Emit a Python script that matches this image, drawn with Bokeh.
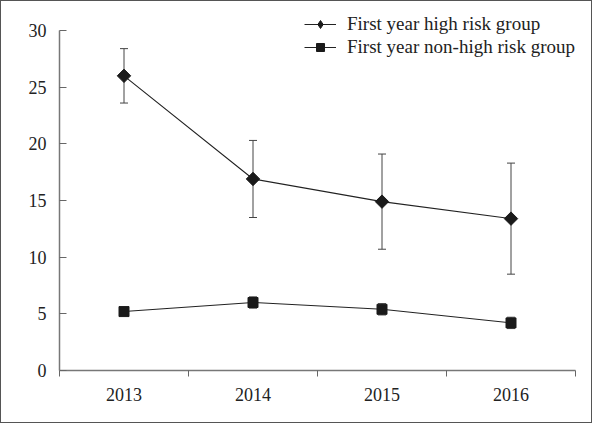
import numpy as np
from bokeh.plotting import figure
from bokeh.models import (ColumnDataSource, Range1d, FixedTicker, Whisker, TeeHead,
                          Legend, LegendItem)
from bokeh.embed import file_html
from bokeh.resources import INLINE

# ---- data ----
years = ["2013", "2014", "2015", "2016"]
high_mean = [26.0, 16.9, 14.9, 13.4]
high_err = [2.4, 3.4, 4.2, 4.9]
non_mean = [5.2, 6.0, 5.4, 4.2]
non_err = [0.3, 0.5, 0.5, 0.5]
y_ticks = [0, 5, 10, 15, 20, 25, 30]
series_labels = ["First year high risk group", "First year non-high risk group"]

FONT = "Liberation Serif"
FS = "18px"
LFS = "19px"
DARK = "#1a1a1a"

xpos = [i + 0.5 for i in range(len(years))]

def src(mean, err):
    return ColumnDataSource(dict(
        x=xpos, y=mean,
        upper=[m + e for m, e in zip(mean, err)],
        lower=[m - e for m, e in zip(mean, err)],
    ))

s_high = src(high_mean, high_err)
s_non = src(non_mean, non_err)

p = figure(width=592, height=423, output_backend="svg", toolbar_location=None,
           x_range=Range1d(0, len(years)), y_range=Range1d(0, 31.5),
           min_border_left=58, min_border_right=18, min_border_top=12, min_border_bottom=54)
p.outline_line_color = None
p.grid.visible = False
p.background_fill_color = "white"
p.border_fill_color = "white"
p.styles = {"border": "1px solid #555"}

# error bars
for s in (s_high, s_non):
    w = Whisker(source=s, base="x", upper="upper", lower="lower",
                line_color="#444", line_width=1,
                upper_head=TeeHead(size=8, line_color="#444", line_width=1),
                lower_head=TeeHead(size=8, line_color="#444", line_width=1))
    p.add_layout(w)

# lines
l_high = p.line("x", "y", source=s_high, line_color="#222", line_width=1.1)
l_non = p.line("x", "y", source=s_non, line_color="#222", line_width=1.1)

# small markers (used for the legend glyph, hidden under the big ones)
lg_high = p.scatter("x", "y", source=s_high, marker="diamond", size=11,
                    fill_color=DARK, line_color=DARK)
lg_non = p.scatter("x", "y", source=s_non, marker="square", size=7.5,
                   fill_color=DARK, line_color=DARK)

# big markers
p.scatter("x", "y", source=s_high, marker="square", angle=np.pi / 4, size=9.5,
          fill_color=DARK, line_color=DARK)
p.scatter("x", "y", source=s_non, marker="square", size=10,
          fill_color=DARK, line_color=DARK)

# axes
xa = p.xaxis[0]
xa.ticker = FixedTicker(ticks=xpos, minor_ticks=list(range(len(years) + 1)))
xa.major_label_overrides = {x: y for x, y in zip(xpos, years)}
xa.major_tick_in = 0
xa.major_tick_out = 0
xa.minor_tick_in = 0
xa.minor_tick_out = 6
xa.minor_tick_line_color = "#666"
xa.axis_line_color = "#777"
xa.axis_line_width = 1.5
xa.major_label_standoff = 11
xa.major_label_text_font = FONT
xa.major_label_text_font_size = FS
xa.major_label_text_color = "#222"

ya = p.yaxis[0]
ya.ticker = FixedTicker(ticks=y_ticks, minor_ticks=[])
ya.bounds = (0, 30)
ya.major_tick_in = 7
ya.major_tick_out = 0
ya.major_tick_line_color = "#666"
ya.minor_tick_line_color = None
ya.axis_line_color = "#777"
ya.axis_line_width = 1.5
ya.major_label_standoff = 13
ya.major_label_text_font = FONT
ya.major_label_text_font_size = FS
ya.major_label_text_color = "#222"

legend = Legend(items=[
    LegendItem(label=series_labels[0], renderers=[l_high, lg_high]),
    LegendItem(label=series_labels[1], renderers=[l_non, lg_non]),
], location="top_right")
legend.margin = 0
legend.padding = 2
legend.spacing = 1
legend.label_height = 20
legend.glyph_height = 20
legend.glyph_width = 32
legend.label_standoff = 11
legend.label_text_font = FONT
legend.label_text_font_size = LFS
legend.label_text_color = "#222"
legend.border_line_color = None
legend.background_fill_alpha = 0
p.add_layout(legend)

open("out.html", "w").write(file_html(p, INLINE))
